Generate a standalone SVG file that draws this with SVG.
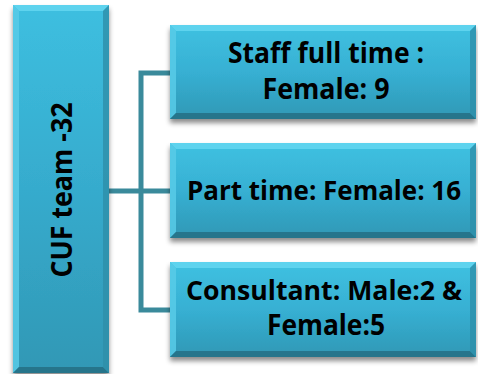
<svg xmlns="http://www.w3.org/2000/svg" width="478" height="374" viewBox="0 0 478 374">
<defs>
<linearGradient id="fill" x1="0" y1="0" x2="0" y2="1">
<stop offset="0" stop-color="#3fc1e1"/>
<stop offset="0.5" stop-color="#37b0d3"/>
<stop offset="1" stop-color="#2f98b5"/>
</linearGradient>
<linearGradient id="fillTall" x1="0" y1="0" x2="0" y2="1">
<stop offset="0" stop-color="#3dbfe0"/>
<stop offset="0.5" stop-color="#36abcd"/>
<stop offset="1" stop-color="#3198b5"/>
</linearGradient>
<filter id="sh" x="-10%" y="-10%" width="120%" height="130%">
<feDropShadow dx="0" dy="4" stdDeviation="2.5" flood-color="#000" flood-opacity="0.45"/>
</filter>
</defs>
<style>
.top{fill:#62d5ef;opacity:0.9}
.left{fill:#58cbe8;opacity:0.85}
.bot{fill:#256f84;opacity:0.85}
.right{fill:#2e8ea9;opacity:0.8}
.t{font-family:"Open Sans","Liberation Sans",sans-serif;font-weight:bold;font-size:28px;fill:#000;text-anchor:middle}
.s{font-size:26px}
.conn{fill:none;stroke:#3a8a9b;stroke-width:5}
</style>
<g id="connectors">
<path class="conn" d="M109,191 H170"/>
<path class="conn" d="M170,73 H141 V310 H170"/>
</g>
<g id="node-cuf">
<rect x="13" y="5" width="96" height="368" fill="url(#fillTall)" filter="url(#sh)"/>
<polygon class="top" points="13,5 109,5 103,11 19,11"/>
<polygon class="left" points="13,5 19,11 19,367 13,373"/>
<polygon class="bot" points="13,373 19,367 103,367 109,373"/>
<polygon class="right" points="109,5 109,373 103,367 103,11"/>
<text class="t" transform="translate(72,190) rotate(-90)" textLength="175" lengthAdjust="spacingAndGlyphs">CUF team -32</text>
</g>
<g id="node-staff">
<rect x="170" y="25" width="306" height="94" fill="url(#fill)" filter="url(#sh)"/>
<polygon class="top" points="170,25 476,25 470,31 176,31"/>
<polygon class="left" points="170,25 176,31 176,113 170,119"/>
<polygon class="bot" points="170,119 176,113 470,113 476,119"/>
<polygon class="right" points="476,25 476,119 470,113 470,31"/>
<text class="t" x="326" y="63" textLength="196" lengthAdjust="spacingAndGlyphs">Staff full time :</text>
<text class="t" x="326" y="99" textLength="127" lengthAdjust="spacingAndGlyphs">Female: 9</text>
</g>
<g id="node-part">
<rect x="170" y="143" width="306" height="95" fill="url(#fill)" filter="url(#sh)"/>
<polygon class="top" points="170,143 476,143 470,149 176,149"/>
<polygon class="left" points="170,143 176,149 176,232 170,238"/>
<polygon class="bot" points="170,238 176,232 470,232 476,238"/>
<polygon class="right" points="476,143 476,238 470,232 470,149"/>
<text class="t s" x="324" y="200" textLength="274" lengthAdjust="spacingAndGlyphs">Part time: Female: 16</text>
</g>
<g id="node-consultant">
<rect x="170" y="262" width="306" height="95" fill="url(#fill)" filter="url(#sh)"/>
<polygon class="top" points="170,262 476,262 470,268 176,268"/>
<polygon class="left" points="170,262 176,268 176,351 170,357"/>
<polygon class="bot" points="170,357 176,351 470,351 476,357"/>
<polygon class="right" points="476,262 476,357 470,351 470,268"/>
<text class="t s" x="324" y="300" textLength="276" lengthAdjust="spacingAndGlyphs">Consultant: Male:2 &amp;</text>
<text class="t" x="326" y="335" textLength="118" lengthAdjust="spacingAndGlyphs">Female:5</text>
</g>
</svg>
